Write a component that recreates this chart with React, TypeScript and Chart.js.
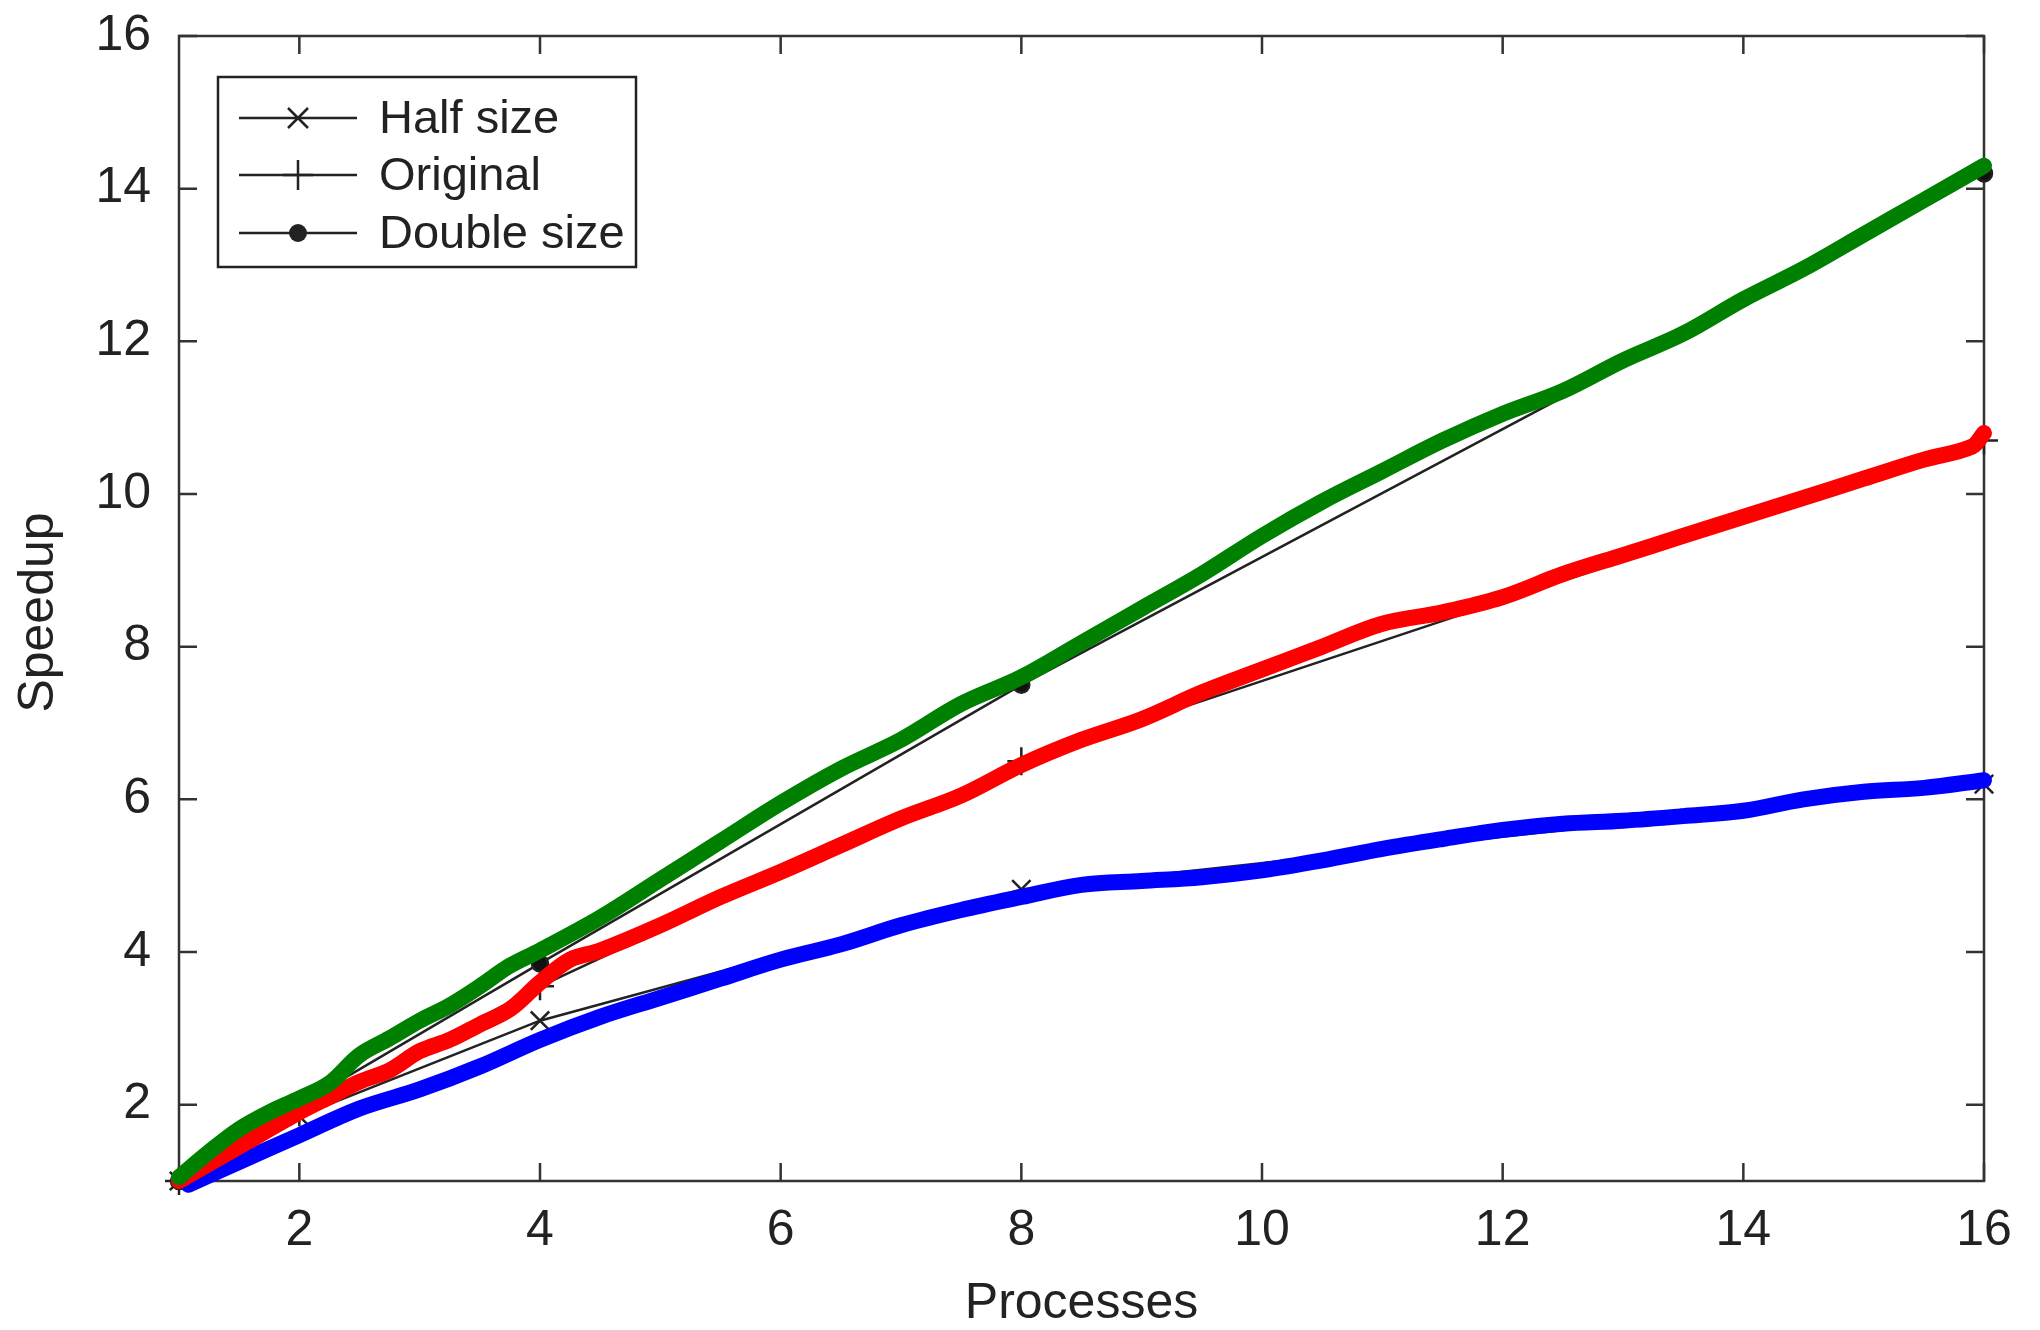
import React, { useEffect, useRef } from "react";
import { Chart, registerables } from "chart.js";

Chart.register(...registerables);

// ---- axis ticks ----
const xTicks = [2, 4, 6, 8, 10, 12, 14, 16];
const yTicks = [2, 4, 6, 8, 10, 12, 14, 16];

// ---- measured series (black lines with markers) ----
const markerX = [1, 2, 4, 8, 16];
const halfSize = [1, 1.85, 3.1, 4.82, 6.2];
const original = [1, 1.9, 3.55, 6.5, 10.7];
const doubleSize = [1, 2.0, 3.85, 7.5, 14.2];

// ---- thick coloured curves ----
const greenX = [1, 1.25, 1.5, 1.75, 2, 2.25, 2.5, 2.75, 3, 3.25, 3.5, 3.75, 4, 4.5, 5, 5.5, 6, 6.5, 7, 7.5, 8, 8.5, 9, 9.5, 10, 10.5, 11, 11.5, 12, 12.5, 13, 13.5, 14, 14.5, 15, 15.5, 16];
const greenY = [1.05, 1.38, 1.68, 1.9, 2.08, 2.28, 2.65, 2.87, 3.1, 3.3, 3.55, 3.82, 4.02, 4.45, 4.95, 5.45, 5.95, 6.4, 6.78, 7.25, 7.6, 8.05, 8.5, 8.95, 9.45, 9.9, 10.3, 10.7, 11.05, 11.35, 11.75, 12.1, 12.55, 12.95, 13.4, 13.85, 14.3];

const redX = [1, 1.5, 2, 2.25, 2.5, 2.75, 3, 3.25, 3.5, 3.75, 4, 4.25, 4.5, 5, 5.5, 6, 6.5, 7, 7.5, 8, 8.5, 9, 9.5, 10, 10.5, 11, 11.5, 12, 12.5, 13, 13.5, 14, 14.5, 15, 15.5, 15.9, 16];
const redY = [1.0, 1.45, 1.9, 2.1, 2.3, 2.45, 2.7, 2.85, 3.05, 3.25, 3.6, 3.9, 4.02, 4.35, 4.72, 5.05, 5.4, 5.75, 6.05, 6.45, 6.78, 7.05, 7.4, 7.7, 8.0, 8.3, 8.45, 8.65, 8.95, 9.2, 9.45, 9.7, 9.95, 10.2, 10.45, 10.62, 10.8];

const blueX = [1.08, 1.5, 2, 2.5, 3, 3.5, 4, 4.5, 5, 5.5, 6, 6.5, 7, 7.5, 8, 8.5, 9, 9.5, 10, 10.5, 11, 11.5, 12, 12.5, 13, 13.5, 14, 14.5, 15, 15.5, 16];
const blueY = [0.95, 1.25, 1.6, 1.95, 2.2, 2.5, 2.85, 3.15, 3.4, 3.65, 3.9, 4.1, 4.35, 4.55, 4.72, 4.88, 4.93, 4.98, 5.07, 5.2, 5.35, 5.48, 5.6, 5.68, 5.72, 5.78, 5.85, 6.0, 6.1, 6.15, 6.25];

const legendLabels = ["Half size", "Original", "Double size"];
const legendMarkers = ["crossRot", "cross", "circle"];

const FONT = "'Liberation Sans', Arial, Helvetica, sans-serif";
const AXIS_COLOR = "#333333";
const TEXT_COLOR = "#222222";

const pts = (xs: number[], ys: number[]) => xs.map((x, i) => ({ x, y: ys[i] }));

function drawMarker(ctx: CanvasRenderingContext2D, style: string, x: number, y: number) {
  ctx.beginPath();
  if (style === "crossRot") {
    const r = 10;
    ctx.moveTo(x - r, y - r); ctx.lineTo(x + r, y + r);
    ctx.moveTo(x - r, y + r); ctx.lineTo(x + r, y - r);
    ctx.stroke();
  } else if (style === "cross") {
    const r = 15;
    ctx.moveTo(x - r, y); ctx.lineTo(x + r, y);
    ctx.moveTo(x, y - r); ctx.lineTo(x, y + r);
    ctx.stroke();
  } else {
    ctx.arc(x, y, 9, 0, Math.PI * 2);
    ctx.fill();
  }
}

const framePlugin = {
  id: "matlabFrame",
  beforeDatasetsDraw(chart: any) {
    const { ctx, chartArea } = chart;
    const { left, right, top, bottom } = chartArea;
    const xs = chart.scales.x;
    const ys = chart.scales.y;
    ctx.save();
    ctx.strokeStyle = AXIS_COLOR;
    ctx.lineWidth = 2.5;
    ctx.strokeRect(left, top, right - left, bottom - top);
    const tl = 18;
    ctx.beginPath();
    xs.ticks.forEach((t: any) => {
      const px = xs.getPixelForValue(t.value);
      ctx.moveTo(px, bottom); ctx.lineTo(px, bottom - tl);
      ctx.moveTo(px, top); ctx.lineTo(px, top + tl);
    });
    ys.ticks.forEach((t: any) => {
      const py = ys.getPixelForValue(t.value);
      ctx.moveTo(left, py); ctx.lineTo(left + tl, py);
      ctx.moveTo(right, py); ctx.lineTo(right - tl, py);
    });
    ctx.stroke();
    ctx.restore();
  },
  afterDraw(chart: any) {
    const { ctx, chartArea } = chart;
    const { left, right, top, bottom } = chartArea;
    ctx.save();
    // axis titles
    ctx.fillStyle = TEXT_COLOR;
    ctx.font = `50px ${FONT}`;
    ctx.textAlign = "center";
    ctx.textBaseline = "alphabetic";
    ctx.fillText("Processes", (left + right) / 2, 1318);
    ctx.save();
    ctx.translate(53, (top + bottom) / 2 + 4);
    ctx.rotate(-Math.PI / 2);
    ctx.fillText("Speedup", 0, 0);
    ctx.restore();

    // legend
    const bx = left + 39, by = top + 41, bw = 418, bh = 190;
    ctx.fillStyle = "#ffffff";
    ctx.fillRect(bx, by, bw, bh);
    ctx.strokeStyle = "#222222";
    ctx.lineWidth = 2.5;
    ctx.strokeRect(bx, by, bw, bh);
    const rows = [by + 41, by + 98, by + 156];
    ctx.font = `47px ${FONT}`;
    ctx.textAlign = "left";
    ctx.textBaseline = "middle";
    legendLabels.forEach((lab, i) => {
      const yy = rows[i];
      ctx.strokeStyle = "#222222";
      ctx.fillStyle = "#222222";
      ctx.lineWidth = 2.5;
      ctx.beginPath();
      ctx.moveTo(bx + 21, yy); ctx.lineTo(bx + 139, yy);
      ctx.stroke();
      drawMarker(ctx, legendMarkers[i], bx + 80, yy);
      ctx.fillStyle = TEXT_COLOR;
      ctx.fillText(lab, bx + 161, yy + 2);
    });
    ctx.restore();
  },
};

export default function App() {
  const canvasRef = useRef<HTMLCanvasElement | null>(null);

  useEffect(() => {
    if (!canvasRef.current) return;
    const thick = (label: string, color: string, data: any) => ({
      label,
      data,
      borderColor: color,
      backgroundColor: color,
      borderWidth: 16,
      pointRadius: 0,
      tension: 0.35,
      borderCapStyle: "round" as const,
      borderJoinStyle: "round" as const,
      clip: false as any,
      fill: false,
    });
    const thin = (label: string, data: number[], style: string, radius: number, filled: boolean) => ({
      label,
      data: pts(markerX, data),
      borderColor: "#222222",
      backgroundColor: filled ? "#111111" : "#222222",
      borderWidth: 2.5,
      pointStyle: style as any,
      pointRadius: radius,
      pointBorderWidth: 2.5,
      pointBorderColor: "#222222",
      pointBackgroundColor: filled ? "#111111" : "rgba(0,0,0,0)",
      tension: 0,
      clip: false as any,
      fill: false,
    });

    const chart = new Chart(canvasRef.current, {
      type: "line",
      data: {
        datasets: [
          thick("Double size (trend)", "#008000", pts(greenX, greenY)),
          thick("Original (trend)", "#ff0000", pts(redX, redY)),
          thick("Half size (trend)", "#0000ff", pts(blueX, blueY)),
          thin(legendLabels[0], halfSize, "crossRot", 13, false),
          thin(legendLabels[1], original, "cross", 14, false),
          thin(legendLabels[2], doubleSize, "circle", 8, true),
        ],
      },
      options: {
        responsive: false,
        animation: false,
        events: [],
        layout: { padding: { top: 36, right: 56, left: 0, bottom: 0 } },
        plugins: {
          legend: { display: false },
          tooltip: { enabled: false },
          title: { display: false },
        },
        scales: {
          x: {
            type: "linear",
            min: 1,
            max: 16,
            afterBuildTicks: (s: any) => {
              s.ticks = xTicks.map((v) => ({ value: v }));
            },
            afterFit: (s: any) => {
              s.height = 149;
              s.paddingLeft = 0;
              s.paddingRight = 0;
            },
            grid: { display: false },
            border: { display: false },
            ticks: {
              autoSkip: false,
              maxRotation: 0,
              padding: 12,
              color: TEXT_COLOR,
              font: { family: FONT, size: 50 },
            },
          },
          y: {
            type: "linear",
            min: 1,
            max: 16,
            afterBuildTicks: (s: any) => {
              s.ticks = yTicks.map((v) => ({ value: v }));
            },
            afterFit: (s: any) => {
              s.width = 179;
              s.paddingTop = 0;
              s.paddingBottom = 0;
            },
            grid: { display: false },
            border: { display: false },
            ticks: {
              autoSkip: false,
              padding: 20,
              color: TEXT_COLOR,
              font: { family: FONT, size: 50 },
            },
          },
        },
      },
      plugins: [framePlugin],
    });
    return () => chart.destroy();
  }, []);

  return (
    <div style={{ position: "fixed", left: 0, top: 0, width: 2040, height: 1330, background: "#ffffff" }}>
      <canvas ref={canvasRef} width={2040} height={1330} style={{ display: "block" }} />
    </div>
  );
}
